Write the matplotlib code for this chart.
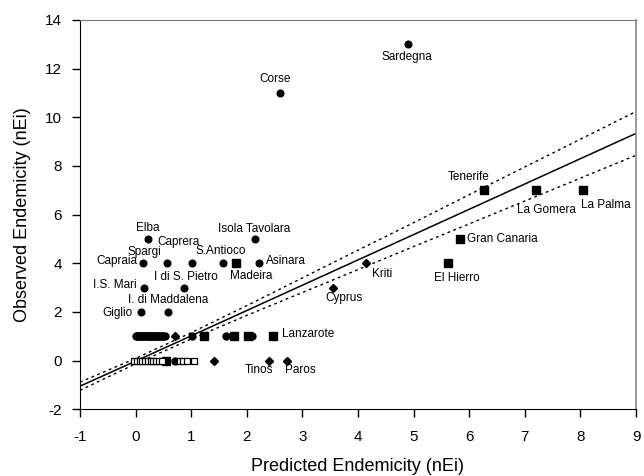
import matplotlib.pyplot as plt

plt.rcParams['font.family'] = ['Liberation Sans', 'DejaVu Sans']
plt.rcParams['axes.unicode_minus'] = False

# Labelled islands: name, predicted nEi, observed nEi, marker group
names = ["Sardegna", "Corse", "Elba", "Isola Tavolara", "Capraia", "Spargi",
         "Caprera", "S.Antioco", "Asinara", "I.S. Mari", "I di S. Pietro",
         "Giglio", "I. di Maddalena",
         "Tenerife", "La Gomera", "La Palma", "Gran Canaria", "El Hierro",
         "Madeira", "Lanzarote",
         "Kriti", "Cyprus", "Tinos", "Paros"]
pred = [4.90, 2.59, 0.215, 2.14, 0.14, 0.56, 1.02, 1.57, 2.22, 0.15, 0.87,
        0.10, 0.585,
        6.27, 7.20, 8.04, 5.83, 5.62, 1.81, 2.47,
        4.15, 3.55, 2.40, 2.72]
obs = [13, 11, 5, 5, 4, 4, 4, 4, 4, 3, 3, 2, 2,
       7, 7, 7, 5, 4, 4, 1,
       4, 3, 0, 0]
group = ["circle"] * 13 + ["square"] * 7 + ["diamond"] * 4

# Unlabelled islands
circ_x = [0.0, 0.02, 0.04, 0.06, 0.08, 0.1, 0.12, 0.14, 0.16, 0.18, 0.2,
          0.22, 0.24, 0.26, 0.28, 0.3, 0.32, 0.34, 0.36, 0.38, 0.4, 0.42,
          0.44, 0.47, 0.5, 0.53, 1.02, 1.62, 2.1, 0.7]
circ_y = [1] * 29 + [0]
sq_x = [1.23, 1.77, 2.03, 0.55]
sq_y = [1, 1, 1, 0]
dia_x = [0.70, 1.41]
dia_y = [1, 0]
open_x = [-0.02, 0.03, 0.08, 0.12, 0.17, 0.22, 0.27, 0.32, 0.37, 0.42,
          0.47, 0.8, 0.86, 0.93, 1.05]
open_y = [0] * 15

# Regression line and confidence limits
fit_x = [-1, 0, 1, 2, 3, 4, 5, 6, 7, 8, 9]
fit_y = [-1.05, -0.02, 1.02, 2.06, 3.10, 4.14, 5.18, 6.22, 7.26, 8.30, 9.34]
ci_hw = [0.17, 0.11, 0.13, 0.20, 0.30, 0.40, 0.49, 0.60, 0.70, 0.80, 0.90]

# label offsets in points (dx, dy, ha)
lab = {
    "Sardegna": (-1, -9, "center"), "Corse": (-3, 10, "center"),
    "Elba": (0, 8, "center"), "Isola Tavolara": (0, 7, "center"),
    "Capraia": (-4, 2, "right"), "Spargi": (-16, 8.5, "center"),
    "Caprera": (-10, 15, "center"), "S.Antioco": (-1.5, 9, "center"),
    "Asinara": (5, 2, "left"), "I.S. Mari": (-5, 2, "right"),
    "I di S. Pietro": (1.5, 8, "center"), "Giglio": (-6, -0.5, "right"),
    "I. di Maddalena": (0, 8.5, "center"),
    "Tenerife": (-11, 9.5, "center"), "La Gomera": (7.5, -14.5, "center"),
    "La Palma": (16.5, -10.5, "center"), "Gran Canaria": (5.5, 0, "left"),
    "El Hierro": (6, -10.5, "center"), "Madeira": (11, -9, "center"),
    "Lanzarote": (6.5, 2, "left"),
    "Kriti": (11.5, -7.5, "center"), "Cyprus": (8, -7.5, "center"),
    "Tinos": (-7, -7, "center"), "Paros": (9.5, -7, "center"),
}

fig = plt.figure(figsize=(6.44, 4.76), dpi=100)
ax = fig.add_axes([0.1242, 0.1401, 0.8634, 0.8179])

fit_up = [f + h for f, h in zip(fit_y, ci_hw)]
fit_lo = [f - h for f, h in zip(fit_y, ci_hw)]
ax.plot(fit_x, fit_y, color='black', lw=1.1, zorder=2)
ax.plot(fit_x, fit_up, color='black', lw=1.0, ls=(0, (2, 2.5)), zorder=2)
ax.plot(fit_x, fit_lo, color='black', lw=1.0, ls=(0, (2, 2.5)), zorder=2)

mk = {"circle": ("o", 4.8), "square": ("s", 5.8), "diamond": ("D", 4.0)}
for g, (m, s) in mk.items():
    xs = [p for p, gg in zip(pred, group) if gg == g]
    ys = [o for o, gg in zip(obs, group) if gg == g]
    ax.plot(xs, ys, m, ms=s, color='black', zorder=3)

ax.plot(circ_x, circ_y, 'o', ms=5.0, color='black', zorder=3)
ax.plot(sq_x, sq_y, 's', ms=5.8, color='black', zorder=3)
ax.plot(dia_x, dia_y, 'D', ms=4.0, color='black', zorder=3)
ax.plot(open_x, open_y, 's', ms=4.8, mfc='white', mec='black', mew=0.9, zorder=4)

for n, x, y in zip(names, pred, obs):
    dx, dy, ha = lab[n]
    ax.annotate(n, (x, y), xytext=(dx, dy), textcoords='offset points',
                ha=ha, va='center', fontsize=8.5)

ax.set_xlim(-1, 9)
ax.set_ylim(-2, 14)
ax.set_xticks(range(-1, 10))
ax.set_yticks(range(-2, 15, 2))
ax.tick_params(direction='out', length=6, width=1, labelsize=11, pad=7)
ax.tick_params(axis='x', pad=9)
ax.spines['top'].set_color('#777777')
ax.spines['right'].set_color('#888888')
ax.spines['right'].set_linewidth(1.2)
ax.set_xlabel("Predicted Endemicity (nEi)", fontsize=13, labelpad=10)
ax.set_ylabel("Observed Endemicity (nEi)", fontsize=13, labelpad=10)

fig.savefig("out.png", dpi=100)
